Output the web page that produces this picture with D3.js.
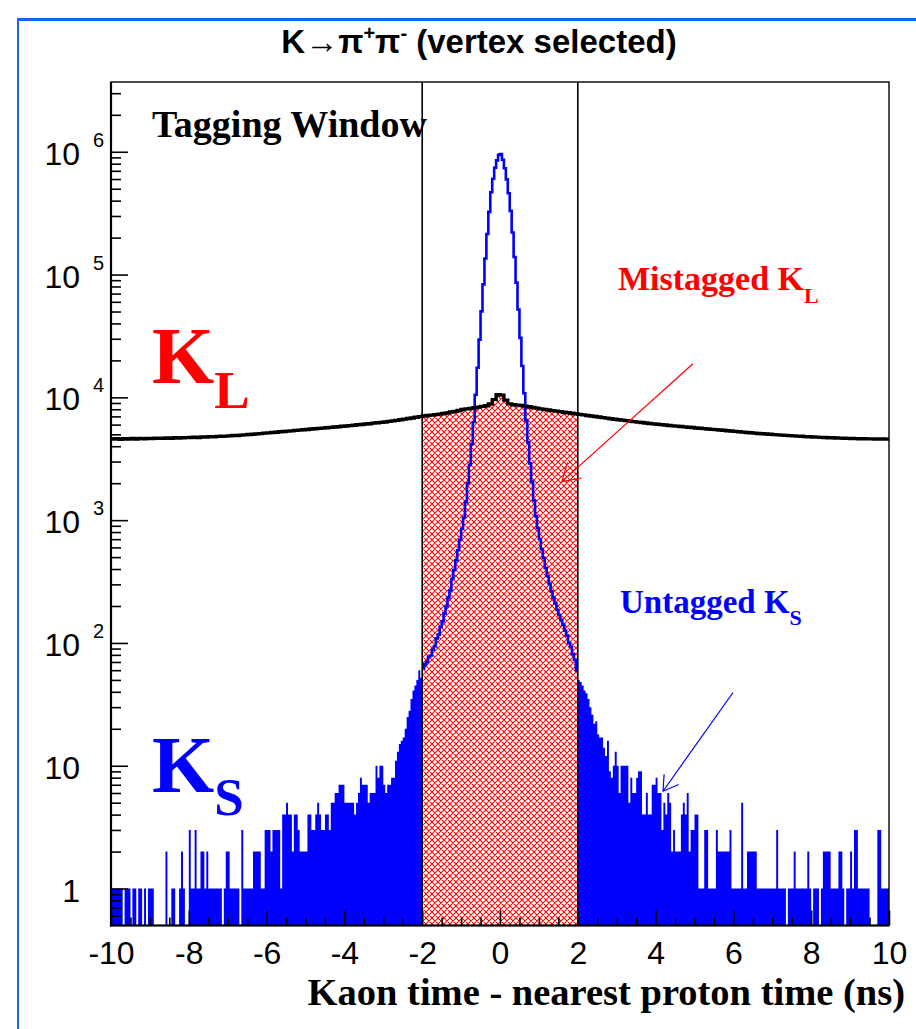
<!DOCTYPE html>
<html><head><meta charset="utf-8">
<script src="https://cdn.jsdelivr.net/npm/d3@7"></script>
<style>html,body{margin:0;padding:0;background:#fff}svg{display:block}</style>
</head><body>
<svg id="chart" width="916" height="1029"></svg>
<script>
// ---------------- DATA ----------------
// K_S histogram: 400 bins of 0.05 ns from -10 to 10 (counts)
const ksStart = -10, ksBinWidth = 0.05;
const ksCounts = [
  1,1,1,1,1,1,0,1,1,1,   0,1,1,0,1,1,0,1,0,1,
  1,1,0,0,0,0,0,0,2,0,   0,1,1,0,0,1,2,1,0,0,
  3,1,1,3,1,1,2,2,1,2,   1,1,1,1,1,1,1,0,1,2,
  2,1,1,1,1,1,0,3,1,1,   1,1,1,2,2,2,2,1,1,3,
  3,3,2,3,3,3,3,1,4,4,   5,4,4,2,4,4,3,2,2,2,
  2,4,4,3,3,4,5,4,3,3,   4,4,3,5,5,6,6,7,7,7,
  5,5,5,5,5,4,5,6,8,7,   7,7,5,6,6,6,10,8,10,10,
  7,6,7,7,8,8,11,13,15,16, 17,20,25,28,35,41,45,50,60,52,
  62,67,70,77,79,88,94,109,117,135,
  150,174,198,234,268,332,393,472,568,692,
  850,1050,1410,2000,2820,4170,6300,10500,17400,29500,
  50100,83200,135000,214000,324000,468000,603000,741000,851000,944000,
  958000,862000,735000,596000,460000,330000,220000,139000,86000,52000,
  30500,18000,10800,6500,4300,2900,2050,1450,1080,860,
  702,583,492,408,352,303,264,234,210,186,
  169,154,141,126,115,100,93,81,73,60,
  50,48,45,41,39,35,30,26,22,23,  18,17,17,14,12,16,9,8,10,13,
  10,6,10,10,10,10,5,8,6,6,       8,9,9,4,4,6,4,4,7,7,
  8,6,6,3,5,4,6,5,2,3,            2,2,2,4,5,4,6,2,3,3,
  4,4,1,1,1,3,3,1,1,1,            1,3,2,2,2,2,2,2,3,1,
  1,1,1,1,5,1,1,2,2,2,            2,2,1,1,1,1,1,1,1,1,
  1,1,3,1,1,1,1,0,1,1,            1,2,1,1,1,1,1,1,2,1,
  0,1,1,1,0,1,2,2,2,2,            1,1,1,1,2,2,1,0,1,1,
  2,1,3,3,1,1,1,1,1,1,            0,0,0,0,3,3,1,1,1,1
];
// K_L histogram: 200 bins of 0.1 ns from -10 to 10 (counts)
const klStart = -10, klBinWidth = 0.1;
const klCounts = [
  4580,4610,4560,4600,4575,4620,4585,4630,4590,4625,
  4620,4645,4630,4640,4665,4650,4690,4660,4685,4700,
  4705,4730,4710,4750,4760,4790,4770,4815,4820,4835,
  4860,4885,4895,4925,4950,4980,5010,5045,5070,5110,
  5135,5175,5200,5245,5265,5305,5335,5385,5405,5455,
  5480,5525,5550,5590,5620,5660,5695,5735,5760,5810,
  5840,5890,5925,5975,6010,6065,6105,6170,6205,6260,
  6305,6370,6430,6500,6565,6645,6720,6800,6885,6970,
  7050,7120,7165,7240,7300,7390,7465,7590,7690,7815,
  7960,8055,8140,8240,8320,8440,8550,8820,9590,10530,
  10430,9500,8850,8710,8640,8580,8480,8390,8280,8170,
  8065,7975,7890,7800,7720,7655,7570,7500,7415,7345,
  7265,7195,7120,7050,6985,6910,6840,6780,6705,6640,
  6580,6520,6460,6395,6340,6290,6235,6185,6130,6085,
  6040,5995,5950,5905,5860,5830,5785,5750,5710,5680,
  5635,5605,5565,5530,5490,5460,5420,5390,5350,5320,
  5280,5250,5210,5180,5145,5115,5085,5055,5030,5000,
  4975,4945,4925,4900,4880,4855,4835,4820,4790,4775,
  4755,4740,4725,4710,4695,4685,4670,4660,4640,4635,
  4625,4615,4605,4600,4590,4590,4580,4580,4575,4570
];
const tagWindow = [-2, 2];
const xMajorTicks = [-10,-8,-6,-4,-2,0,2,4,6,8,10];
const xTickLabels = ["-10","-8","-6","-4","-2","0","2","4","6","8","10"];
const yDecades = [1,10,100,1000,10000,100000,1000000];
const yDecadeMantissa = ["1","10","10","10","10","10","10"];
const yDecadeExponent = ["","","2","3","4","5","6"];
// annotation arrows: [tail t, tail count, tip t, tip count]
const mistagArrow = [4.96, 18800, 1.59, 2060];
const untagArrow = [5.99, 39.5, 4.19, 6.2];

// ---------------- CHART ----------------
const svg = d3.select("#chart");
const x = d3.scaleLinear().domain([-10, 10]).range([111, 889]);
const y = d3.scaleLog().domain([0.5, 3.7e6]).range([925.5, 82]);
const yBottom = y(0.5);
const SERIF = "'Liberation Serif','Times New Roman',serif";
const SANS = "'Liberation Sans',Arial,Helvetica,sans-serif";

// outer blue frame
svg.append("line").attr("x1",18).attr("x2",916).attr("y1",19.5).attr("y2",19.5)
  .attr("stroke","#1466f2").attr("stroke-width",3);
svg.append("line").attr("x1",18).attr("x2",18).attr("y1",18).attr("y2",1029)
  .attr("stroke","#1466f2").attr("stroke-width",2);

const defs = svg.append("defs");
const pat = defs.append("pattern").attr("id","hatch").attr("patternUnits","userSpaceOnUse")
  .attr("width",6).attr("height",6);
pat.append("rect").attr("width",6).attr("height",6).attr("fill","#fff");
pat.append("path").attr("d","M-1,-1L7,7M7,-1L-1,7M-1,5L1,7M5,-1L7,1M-1,1L1,-1M5,7L7,5")
  .attr("stroke","#ff0000").attr("stroke-width",1.05);

function stepPts(counts, start, w, i0, i1) {
  const pts = [];
  for (let i = i0; i < i1; i++) {
    pts.push([start + i*w, counts[i]]);
    pts.push([start + (i+1)*w, counts[i]]);
  }
  return pts;
}
const area = d3.area().x(d => x(d[0])).y0(yBottom).y1(d => y(Math.max(d[1], 0.5)));
const line = d3.line().x(d => x(d[0])).y(d => y(Math.max(d[1], 0.5)));

const nKs = ksCounts.length;
const iL = Math.round((tagWindow[0]-ksStart)/ksBinWidth);
const iR = Math.round((tagWindow[1]-ksStart)/ksBinWidth);
svg.append("path").attr("d", area(stepPts(ksCounts, ksStart, ksBinWidth, 0, iL))).attr("fill","#0000ff");
svg.append("path").attr("d", area(stepPts(ksCounts, ksStart, ksBinWidth, iR, nKs))).attr("fill","#0000ff");

const kL = Math.round((tagWindow[0]-klStart)/klBinWidth);
const kR = Math.round((tagWindow[1]-klStart)/klBinWidth);
svg.append("path").attr("d", area(stepPts(klCounts, klStart, klBinWidth, kL, kR))).attr("fill","url(#hatch)");

svg.append("path").attr("d", line(stepPts(ksCounts, ksStart, ksBinWidth, iL, iR)))
  .attr("fill","none").attr("stroke","#0000ff").attr("stroke-width",2.6);

svg.append("path").attr("d", line(stepPts(klCounts, klStart, klBinWidth, 0, klCounts.length)))
  .attr("fill","none").attr("stroke","#000").attr("stroke-width",3.4);

tagWindow.forEach(t => {
  svg.append("line").attr("x1",x(t)).attr("x2",x(t)).attr("y1",82).attr("y2",yBottom)
    .attr("stroke","#000").attr("stroke-width",1.6);
});

// axes
const yMinor = [];
for (let e = -1; e <= 6; e++) for (let m = 2; m <= 9; m++) {
  const v = m*Math.pow(10,e);
  if (v > 0.5 && v < 3.7e6) yMinor.push(v);
}
svg.append("g").attr("transform","translate(111,0)")
  .call(d3.axisLeft(y).tickValues(yMinor).tickSize(-10).tickFormat(""))
  .call(g => g.select(".domain").remove())
  .call(g => g.selectAll("line").attr("stroke","#000").attr("stroke-width",1.6));
svg.append("g").attr("transform","translate(111,0)")
  .call(d3.axisLeft(y).tickValues(yDecades).tickSize(-17).tickFormat(""))
  .call(g => g.select(".domain").remove())
  .call(g => g.selectAll("line").attr("stroke","#000").attr("stroke-width",1.6));

const xMinor = d3.range(-10, 10.01, 0.5).filter(v => !xMajorTicks.includes(v));
svg.append("g").attr("transform",`translate(0,${yBottom})`)
  .call(d3.axisBottom(x).tickValues(xMinor).tickSize(-8).tickFormat(""))
  .call(g => g.select(".domain").remove())
  .call(g => g.selectAll("line").attr("stroke","#000").attr("stroke-width",1.6));
svg.append("g").attr("transform",`translate(0,${yBottom})`)
  .call(d3.axisBottom(x).tickValues(xMajorTicks).tickSize(-15).tickPadding(16)
    .tickFormat((d,i) => xTickLabels[i]))
  .call(g => g.select(".domain").remove())
  .call(g => g.selectAll("line").attr("stroke","#000").attr("stroke-width",1.6))
  .call(g => g.selectAll("text").attr("font-family",SANS).attr("font-size",32).attr("fill","#000"));

// frame
svg.append("rect").attr("x",111).attr("y",82).attr("width",778).attr("height",yBottom-82)
  .attr("fill","none").attr("stroke","#000").attr("stroke-width",1.4);
svg.append("line").attr("x1",111).attr("x2",111).attr("y1",82).attr("y2",yBottom+1).attr("stroke","#000").attr("stroke-width",2.2);
svg.append("line").attr("x1",110).attr("x2",889).attr("y1",yBottom).attr("y2",yBottom).attr("stroke","#000").attr("stroke-width",2.2);

// y labels
yDecades.forEach((v,i) => {
  const yy = y(v);
  svg.append("text").attr("x",80).attr("y",yy+13).attr("text-anchor","end")
    .attr("font-family",SANS).attr("font-size",32).text(yDecadeMantissa[i]);
  if (yDecadeExponent[i]) svg.append("text").attr("x",93).attr("y",yy-5)
    .attr("font-family",SANS).attr("font-size",20).text(yDecadeExponent[i]);
});

// title
const title = svg.append("text").attr("x",479).attr("y",53).attr("text-anchor","middle")
  .attr("font-family",SANS).attr("font-weight","bold").attr("font-size",33);
title.append("tspan").text("K\u2192\u03c0");
title.append("tspan").attr("font-size",20).attr("dy",-13).text("+");
title.append("tspan").attr("dy",13).text("\u03c0");
title.append("tspan").attr("font-size",20).attr("dy",-13).text("-");
title.append("tspan").attr("dy",13).text(" (vertex selected)");

// x axis title
svg.append("text").attr("x",905).attr("y",1005).attr("text-anchor","end")
  .attr("font-family",SERIF).attr("font-weight","bold").attr("font-size",38.5)
  .text("Kaon time - nearest proton time (ns)");

// labels in plot
svg.append("text").attr("x",152).attr("y",137).attr("font-family",SERIF).attr("font-weight","bold")
  .attr("font-size",38).text("Tagging Window");

const kl = svg.append("text").attr("x",152).attr("y",383).attr("font-family",SERIF).attr("font-weight","bold")
  .attr("font-size",80).attr("fill","#ff0000");
kl.append("tspan").text("K");
kl.append("tspan").attr("font-size",53).attr("dy",25).text("L");

const ks = svg.append("text").attr("x",152).attr("y",792).attr("font-family",SERIF).attr("font-weight","bold")
  .attr("font-size",80).attr("fill","#0000ff");
ks.append("tspan").text("K");
ks.append("tspan").attr("font-size",53).attr("dy",23).text("S");

const mt = svg.append("text").attr("x",618).attr("y",290).attr("font-family",SERIF).attr("font-weight","bold")
  .attr("font-size",34).attr("fill","#ff0000");
mt.append("tspan").text("Mistagged K");
mt.append("tspan").attr("font-size",22).attr("dy",13).text("L");

const ut = svg.append("text").attr("x",620).attr("y",613).attr("font-family",SERIF).attr("font-weight","bold")
  .attr("font-size",33).attr("fill","#0000ff");
ut.append("tspan").text("Untagged K");
ut.append("tspan").attr("font-size",22).attr("dy",12).text("S");

// arrows
function arrow(a, color, head) {
  const x1 = x(a[0]), y1 = y(a[1]), x2 = x(a[2]), y2 = y(a[3]);
  svg.append("line").attr("x1",x1).attr("y1",y1).attr("x2",x2).attr("y2",y2)
    .attr("stroke",color).attr("stroke-width",1.2);
  const ang = Math.atan2(y1-y2, x1-x2);
  [ -0.55, 0.55 ].forEach(da => {
    svg.append("line").attr("x1",x2).attr("y1",y2)
      .attr("x2",x2 + head*Math.cos(ang+da)).attr("y2",y2 + head*Math.sin(ang+da))
      .attr("stroke",color).attr("stroke-width",1.2);
  });
}
arrow(mistagArrow, "#ff0000", 20);
arrow(untagArrow, "#0000ff", 17);
</script>
</body></html>
